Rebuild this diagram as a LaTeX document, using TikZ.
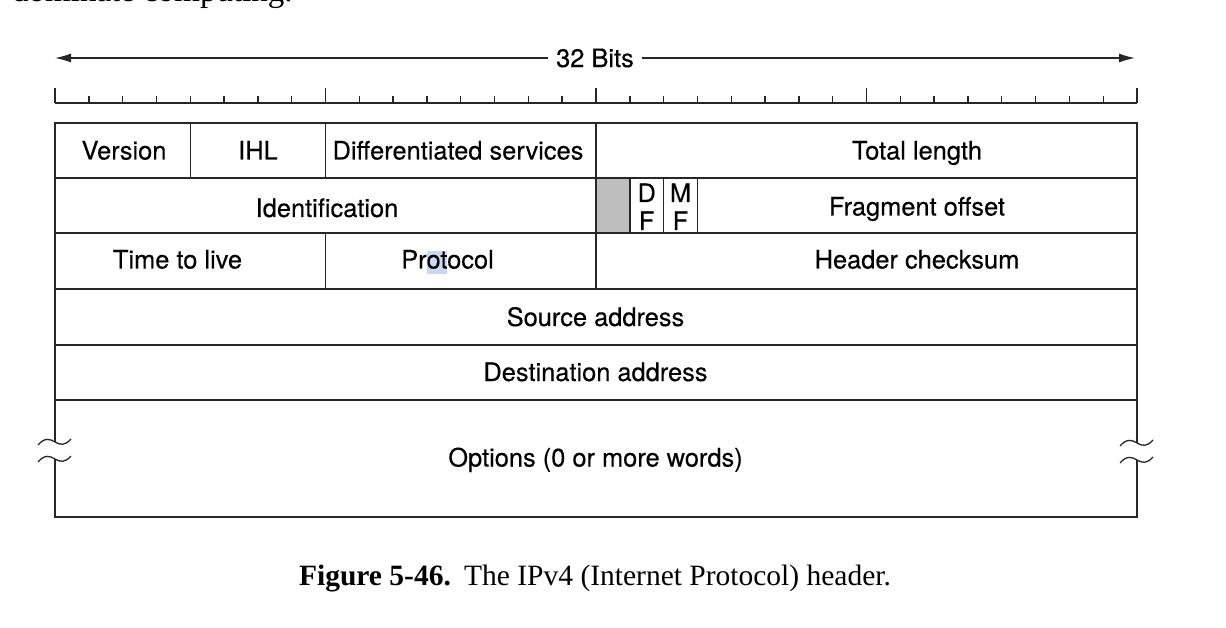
\documentclass[tikz,border=0pt]{standalone}
\usepackage{fontspec}
\setmainfont{TeX Gyre Heros}
\newfontfamily\lblfont{TeX Gyre Heros}[FakeBold=0.3]
\newfontfamily\capfont{Liberation Serif}
\usetikzlibrary{arrows.meta}
\definecolor{reservedgray}{RGB}{190,190,190}
\definecolor{selblue}{RGB}{200,218,243}
\tikzset{
  lbl/.style={font=\lblfont\fontsize{25.4}{30}\selectfont, inner sep=0pt, anchor=base},
  frame/.style={line width=1.4pt, black!85},
  tick/.style={line width=1.4pt, black!85},
  arr/.style={line width=1.3pt, black!85, -{Latex[length=16pt,width=9pt]}},
  squig/.style={line width=1.3pt, black!85},
}
\newcommand{\squiggle}[2]{%
  \draw[squig] (#1-17,#2+3) .. controls (#1-10,#2-5) and (#1-5,#2-3) .. (#1,#2)
     .. controls (#1+5,#2+3) and (#1+10,#2+4) .. (#1+16,#2-3);}
\begin{document}
\begin{tikzpicture}[x=1pt,y=-1pt]
\useasboundingbox (0,0) rectangle (1226,628);
\fill[white] (0,0) rectangle (1226,628);

% cut-off line of body text above the figure (clipped by the page edge, as in the reference)
\node[font=\capfont\fontsize{33}{36}\selectfont, anchor=base west, inner sep=0pt] (prevtext) at (12,2) {dominate computing.};

% 32 bits arrow
\node[font=\lblfont\fontsize{25.4}{30}\selectfont, inner xsep=7.5pt, inner ysep=0pt] (bits) at (595,58) {32 Bits};
\coordinate (la) at (55,58);
\coordinate (ra) at (1135,58);
\draw[arr] (bits.west) -- (la);
\draw[arr] (bits.east) -- (ra);

% ruler
\draw[tick] (55,103) -- (1137,103);
\foreach \i in {0,...,32}{
  \pgfmathsetmacro{\xx}{55+\i*33.8125}
  \pgfmathtruncatemacro{\m}{mod(\i,8)}
  \ifnum\m=0
    \draw[tick] (\xx,88) -- (\xx,103);
  \else
    \draw[tick] (\xx,96) -- (\xx,103);
  \fi
}

% reserved bit and selection highlight
\fill[reservedgray] (596,178) rectangle (629.8,233);
\fill[selblue] (426.5,251) rectangle (447,274);

% header frame
\draw[frame] (55,123) rectangle (1137,400);
\foreach \yy in {178,233,289,345}{ \draw[frame] (55,\yy) -- (1137,\yy); }
\draw[frame] (190.2,123) -- (190.2,178);
\draw[frame] (325.5,123) -- (325.5,178);
\draw[frame] (596,123) -- (596,289);
\draw[frame] (629.8,178) -- (629.8,233);
\draw[frame] (663.6,178) -- (663.6,233);
\draw[frame] (697.4,178) -- (697.4,233);
\draw[frame] (325.5,233) -- (325.5,289);

% options area with broken sides
\draw[frame] (55,400) -- (55,442);
\draw[frame] (55,459) -- (55,517) -- (1137,517) -- (1137,460);
\draw[frame] (1137,443) -- (1137,400);
\squiggle{55}{442}
\squiggle{55}{459}
\squiggle{1137}{443}
\squiggle{1137}{460}

% labels
\node[lbl] (version) at (124,159.5) {Version};
\node[lbl] (ihl) at (258,159.5) {IHL};
\node[lbl] (ds) at (458,159.5) {Differentiated services};
\node[lbl] (tlen) at (917,159.5) {Total length};
\node[lbl] (ident) at (327,217) {Identification};
\node[lbl] (df1) at (646.7,202) {D};
\node[lbl] (df2) at (646.7,230) {F};
\node[lbl] (mf1) at (680.5,202) {M};
\node[lbl] (mf2) at (680.5,230) {F};
\node[lbl] (frag) at (917,215.5) {Fragment offset};
\node[lbl] (ttl) at (177.5,268.5) {Time to live};
\node[lbl] (proto) at (447.5,268.5) {Protocol};
\node[lbl] (hcs) at (917,268.5) {Header checksum};
\node[lbl] (src) at (595.5,326) {Source address};
\node[lbl] (dst) at (595.5,381) {Destination address};
\node[lbl] (opt) at (595.5,466.5) {Options (0 or more words)};

% caption
\node[font=\capfont\fontsize{29.5}{34}\selectfont, inner sep=0pt, anchor=base] (caption) at (595,585)
  {\textbf{Figure 5-46.}\hspace{0.45em}The IPv4 (Internet Protocol) header.};
\end{tikzpicture}
\end{document}
